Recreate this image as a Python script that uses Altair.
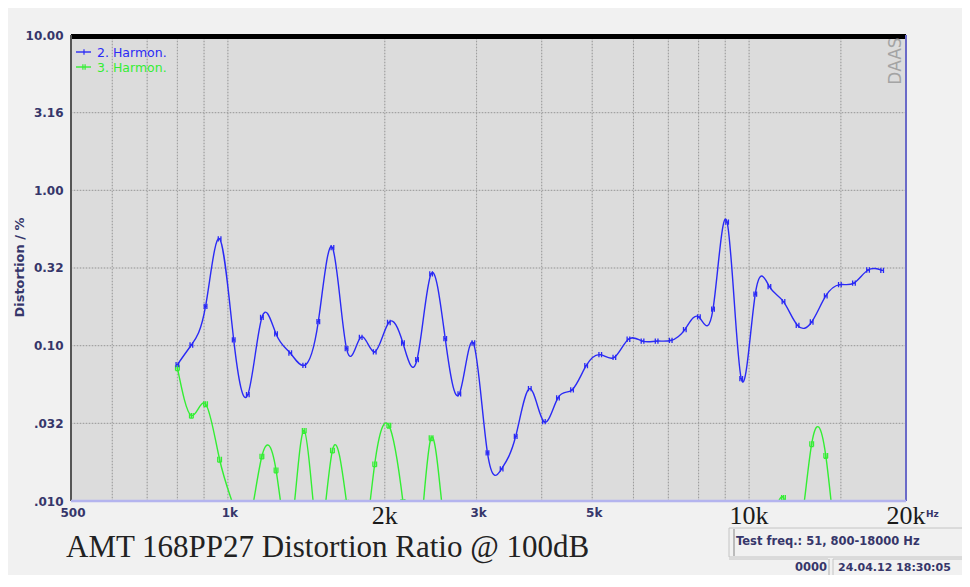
import altair as alt
import pandas as pd

# ---------------- data ----------------
freq_hz = [800, 851, 906, 964, 1026, 1092, 1162, 1237, 1317, 1401, 1491, 1587, 1689,
           1798, 1913, 2036, 2167, 2306, 2454, 2612, 2780, 2958, 3148, 3351, 3566,
           3795, 4039, 4298, 4574, 4868, 5181, 5514, 5868, 6245, 6646, 7073, 7528,
           8011, 8526, 9074, 9657, 10277, 10938, 11640, 12388, 13184, 14031, 14933,
           15892, 16913, 18000]

harm2 = [0.0755, 0.101, 0.179, 0.487, 0.109, 0.0484, 0.152, 0.119, 0.0897, 0.0746,
         0.143, 0.428, 0.0957, 0.113, 0.0911, 0.141, 0.104, 0.0813, 0.290, 0.111,
         0.0489, 0.104, 0.0204, 0.0161, 0.0261, 0.0529, 0.0324, 0.0461, 0.0519, 0.0743,
         0.0875, 0.0841, 0.110, 0.107, 0.107, 0.108, 0.127, 0.153, 0.172, 0.624,
         0.0614, 0.215, 0.240, 0.192, 0.135, 0.142, 0.209, 0.247, 0.253, 0.307,
         0.305]

harm3 = [0.0719, 0.0355, 0.0422, 0.0185, 0.0092, 0.0068, 0.0194, 0.0158, 0.0061, 0.0284,
         0.0058, 0.0212, 0.0098, 0.0040, 0.0173, 0.0307, 0.0099, 0.0040, 0.0255, 0.0063,
         0.0045, 0.0050, 0.0055, 0.0050, 0.0045, 0.0050, 0.0055, 0.0060, 0.0055, 0.0050,
         0.0045, 0.0050, 0.0055, 0.0060, 0.0055, 0.0050, 0.0045, 0.0050, 0.0055, 0.0060,
         0.0065, 0.0070, 0.0065, 0.0105, 0.0056, 0.0233, 0.0196, 0.0036, 0.0040, 0.0042,
         0.0040]

series_names = ["2. Harmon.", "3. Harmon."]
series_colors = ["#2a2af5", "#33ee33"]

x_grid = [600, 700, 800, 900, 1000, 2000, 3000, 4000, 5000, 6000, 7000, 8000, 9000,
          10000, 15000]
y_grid = [0.0316228, 0.1, 0.316228, 1.0, 3.16228]
y_ticks = [0.01, 0.0316228, 0.1, 0.316228, 1.0, 3.16228, 10.0]

x_small_vals = [500, 1000, 3000, 5000]
x_small_text = ["500", "1k", "3k", "5k"]
x_big_vals = [2000, 10000, 20000]
x_big_text = ["2k", "10k", "20k"]

title_text = "AMT 168PP27 Distortion Ratio @ 100dB"
y_title = "Distortion / %"
info_text = "Test freq.: 51, 800-18000 Hz"
count_text = "0000"
stamp_text = "24.04.12 18:30:05"
watermark = "DAAS"

NAVY = "#36366a"
W, H = 835, 466

xs = alt.Scale(type="log", domain=[500, 20000], nice=False)
ys = alt.Scale(type="log", domain=[0.01, 10], nice=False)

yaxis = alt.Axis(values=y_ticks, grid=False, domain=False, ticks=False,
                 labelFont="DejaVu Sans", labelFontWeight="bold", labelFontSize=12,
                 labelColor=NAVY, labelPadding=8,
                 labelExpr="datum.value < 0.099 ? replace(format(datum.value, '.3f'), '0.', '.') : format(datum.value, '.2f')",
                 title=y_title, titleFont="DejaVu Sans", titleFontSize=13,
                 titleFontWeight="bold", titleColor=NAVY, titleAngle=270,
                 titleX=-52, titleY=232, titleAlign="center", titleBaseline="middle")

one = pd.DataFrame({"a": [0]})

# ---------------- grid ----------------
gx = pd.DataFrame({"g": x_grid})
gy = pd.DataFrame({"g": y_grid})
vgrid_solid = alt.Chart(gx).mark_rule(color="#c6c6c6", strokeWidth=1).encode(
    x=alt.X("g:Q", scale=xs, axis=None))
vgrid_dot = alt.Chart(gx).mark_rule(color="#9c9c9c", strokeWidth=1, strokeDash=[1, 2]).encode(
    x=alt.X("g:Q", scale=xs, axis=None))
hgrid_solid = alt.Chart(gy).mark_rule(color="#c6c6c6", strokeWidth=1).encode(
    y=alt.Y("g:Q", scale=ys, axis=yaxis))
hgrid_dot = alt.Chart(gy).mark_rule(color="#9c9c9c", strokeWidth=1, strokeDash=[1, 2]).encode(
    y=alt.Y("g:Q", scale=ys, axis=yaxis))

# ---------------- series ----------------
d2 = pd.DataFrame({"f": freq_hz, "v": harm2})
d3 = pd.DataFrame({"f": freq_hz, "v": harm3})

blue_marker = "M-0.5,-1L-0.5,1M0.5,-1L0.5,1M-0.5,0L0.5,0"
green_marker = "M-0.7,-1L-0.7,1M0,-1L0,1M0.7,-1L0.7,1M-0.7,1L0.7,1"

def series(df, color, marker):
    enc = dict(x=alt.X("f:Q", scale=xs, axis=None), y=alt.Y("v:Q", scale=ys, axis=yaxis))
    line = alt.Chart(df).mark_line(interpolate="natural", clip=True, color=color,
                                   strokeWidth=1.4).encode(**enc)
    pts = alt.Chart(df).mark_point(shape=marker, size=28, filled=False, clip=True,
                                   color=color, strokeWidth=1.3, opacity=1).encode(**enc)
    return line + pts

green = series(d3, series_colors[1], green_marker)
blue = series(d2, series_colors[0], blue_marker)

# ---------------- frame ----------------
top_border = alt.Chart(one).mark_rule(color="#000000", strokeWidth=5).encode(
    x=alt.value(0), x2=alt.value(W), y=alt.value(1.5))
left_border = alt.Chart(one).mark_rule(color="#555555", strokeWidth=2).encode(
    x=alt.value(0), y=alt.value(0), y2=alt.value(H))
right_border = alt.Chart(one).mark_rule(color="#6a6ac8", strokeWidth=2).encode(
    x=alt.value(W), y=alt.value(0), y2=alt.value(H))
bottom_border = alt.Chart(one).mark_rule(color="#b4b4ee", strokeWidth=2.5).encode(
    x=alt.value(0), x2=alt.value(W), y=alt.value(H))

# ---------------- legend ----------------
def legend_row(i, marker, ypos):
    c = series_colors[i]
    ln = alt.Chart(one).mark_rule(color=c, strokeWidth=1.4).encode(
        x=alt.value(5), x2=alt.value(20), y=alt.value(ypos))
    mk = alt.Chart(one).mark_point(shape=marker, size=30, filled=False, color=c,
                                   strokeWidth=1.2, opacity=1).encode(
        x=alt.value(13), y=alt.value(ypos))
    tx = alt.Chart(pd.DataFrame({"t": [series_names[i]]})).mark_text(
        align="left", baseline="middle", font="DejaVu Sans", fontSize=12.5,
        color=c).encode(x=alt.value(26), y=alt.value(ypos + 1), text="t:N")
    return ln + mk + tx

legend = legend_row(0, "M0,-1L0,1", 17) + legend_row(1, "M-0.4,-1L-0.4,1M0.4,-1L0.4,1", 32)

daas = alt.Chart(pd.DataFrame({"t": [watermark]})).mark_text(
    angle=270, align="center", baseline="middle", font="DejaVu Sans", fontSize=17,
    color="#a4a4a4").encode(x=alt.value(825), y=alt.value(26), text="t:N")

# ---------------- x labels ----------------
xl_small = alt.Chart(pd.DataFrame({"f": x_small_vals, "t": x_small_text})).mark_text(
    align="center", baseline="middle", font="DejaVu Sans", fontWeight="bold",
    fontSize=12, color=NAVY, dx=2).encode(
    x=alt.X("f:Q", scale=xs, axis=None), y=alt.value(478), text="t:N")
hz = alt.Chart(pd.DataFrame({"t": ["Hz"]})).mark_text(
    align="left", baseline="middle", font="DejaVu Sans", fontWeight="bold",
    fontSize=9, color=NAVY).encode(x=alt.value(855), y=alt.value(479), text="t:N")
xl_big = alt.Chart(pd.DataFrame({"f": x_big_vals, "t": x_big_text})).mark_text(
    align="center", baseline="alphabetic", font="Liberation Serif", fontSize=26,
    color="#1a1a1a").encode(
    x=alt.X("f:Q", scale=xs, axis=None), y=alt.value(489), text="t:N")

title = alt.Chart(pd.DataFrame({"t": [title_text]})).mark_text(
    align="left", baseline="alphabetic", font="Liberation Serif", fontSize=31,
    color="#222222").encode(x=alt.value(-5), y=alt.value(522), text="t:N")

# ---------------- info boxes ----------------
box1 = alt.Chart(one).mark_rect(fill="#f1f1f1", stroke="#c4c4c4", strokeWidth=1).encode(
    x=alt.value(658), x2=alt.value(895), y=alt.value(493), y2=alt.value(522))
box1_edge = alt.Chart(one).mark_rule(color="#a8a8a8", strokeWidth=1.5).encode(
    x=alt.value(663), y=alt.value(494), y2=alt.value(521))
row2_line = alt.Chart(one).mark_rule(color="#c4c4c4", strokeWidth=1).encode(
    x=alt.value(658), x2=alt.value(757), y=alt.value(524))
sep1 = alt.Chart(one).mark_rule(color="#c4c4c4", strokeWidth=1.5).encode(
    x=alt.value(758), y=alt.value(524), y2=alt.value(560))
box2 = alt.Chart(one).mark_rect(fill="#f1f1f1", stroke="#c4c4c4", strokeWidth=1).encode(
    x=alt.value(762), x2=alt.value(895), y=alt.value(524), y2=alt.value(560))
info = alt.Chart(pd.DataFrame({"t": [info_text]})).mark_text(
    align="left", baseline="middle", font="DejaVu Sans", fontWeight="bold",
    fontSize=11.5, color=NAVY).encode(x=alt.value(665), y=alt.value(507), text="t:N")
count = alt.Chart(pd.DataFrame({"t": [count_text]})).mark_text(
    align="right", baseline="middle", font="DejaVu Sans", fontWeight="bold",
    fontSize=11.5, color=NAVY).encode(x=alt.value(756), y=alt.value(533), text="t:N")
stamp = alt.Chart(pd.DataFrame({"t": [stamp_text]})).mark_text(
    align="left", baseline="middle", font="DejaVu Sans", fontWeight="bold",
    fontSize=11, color=NAVY).encode(x=alt.value(767), y=alt.value(533), text="t:N")

chart = alt.layer(
    vgrid_solid, hgrid_solid, vgrid_dot, hgrid_dot,
    green, blue,
    top_border, left_border, right_border, bottom_border,
    legend, daas, xl_small, hz, xl_big, title,
    box1, box1_edge, row2_line, sep1, box2, info, count, stamp,
).properties(
    width=W, height=H,
    padding={"left": 63, "top": 27, "right": 56, "bottom": 74},
    autosize=alt.AutoSizeParams(type="none"),
).configure(background="#f1f1f1").configure_view(fill="#dcdcdc", strokeWidth=0)

chart.save("out.html", embed_options={"renderer": "svg", "actions": False})
